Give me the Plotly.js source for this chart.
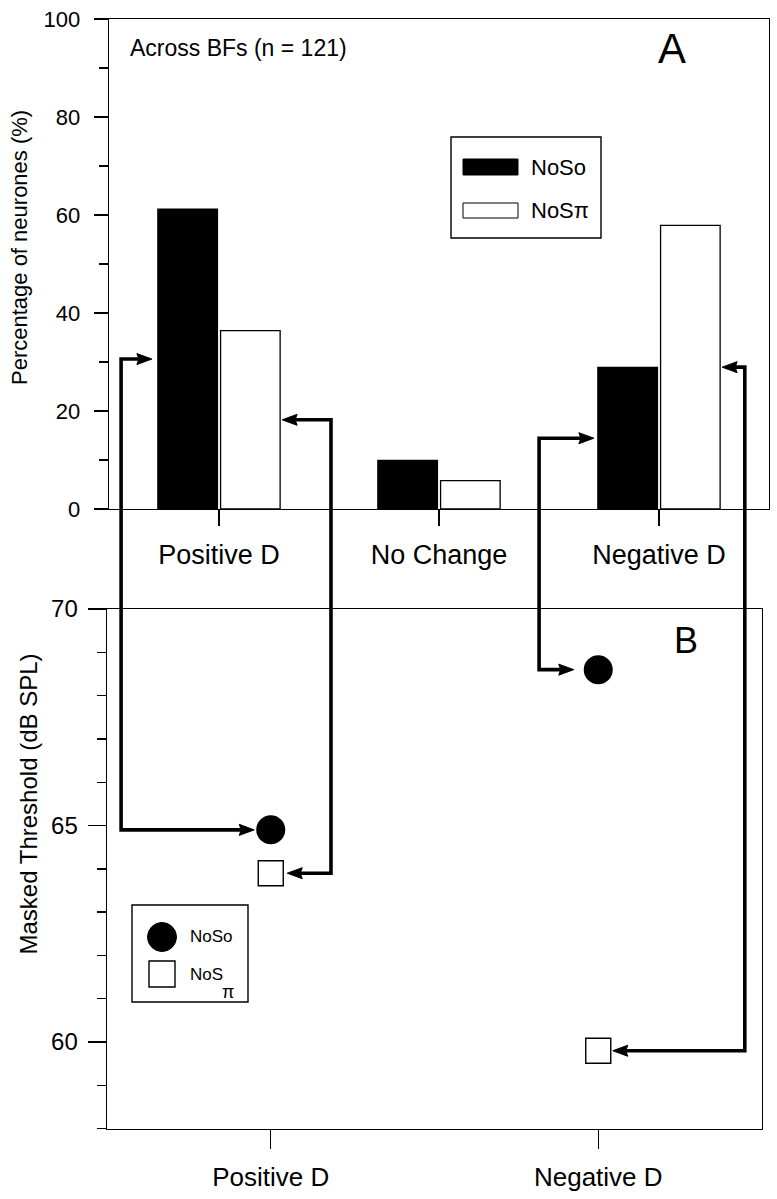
<!DOCTYPE html>
<html><head><meta charset="utf-8">
<script src="https://cdn.plot.ly/plotly-3.0.1.min.js"></script>
<style>html,body{margin:0;padding:0;background:#fff}</style>
</head><body><div id="chart" style="width:777px;height:1199px"></div>
<script>
// ---------------- DATA ----------------
const categoriesA = ['Positive D', 'No Change', 'Negative D'];
const percentNoSo = [61.2, 9.9, 28.9];
const percentNoSpi = [36.4, 5.8, 57.9];
const categoriesB = ['Positive D', 'Negative D'];
const thresholdNoSo = [64.9, 68.6];
const thresholdNoSpi = [63.9, 59.8];
const seriesNames = ['NoSo', 'NoSπ'];
const panelANote = 'Across BFs (n = 121)';
const yTitleA = 'Percentage of neurones (%)';
const yTitleB = 'Masked Threshold (dB SPL)';

// ---------------- GEOMETRY / STYLE ----------------
const W = 777, H = 1199;
const FONT = '"Liberation Sans", Arial, Helvetica, sans-serif';
const boxA = {l: 109, r: 769, t: 19, b: 509};
const boxB = {l: 107, r: 762, t: 609, b: 1128.7};
const rangeAx = [-0.5, 2.5], rangeAy = [0, 100];
const rangeBx = [-0.5, 1.5], rangeBy = [58, 70];
const BARGAP = 0.43, BARGROUPGAP = 0.05;
const CIRCLE = 29, SQUARE = 25;
const LW = 1.4;

const dom = (a, b, n) => [a / n, b / n];
const dx = (px) => px / W;
const dy = (px) => 1 - px / H;

// data -> pixel (using same ranges/domains given to the axes)
const Ax = v => boxA.l + (v - rangeAx[0]) / (rangeAx[1] - rangeAx[0]) * (boxA.r - boxA.l);
const Ay = v => boxA.b - (v - rangeAy[0]) / (rangeAy[1] - rangeAy[0]) * (boxA.b - boxA.t);
const Bx = v => boxB.l + (v - rangeBx[0]) / (rangeBx[1] - rangeBx[0]) * (boxB.r - boxB.l);
const By = v => boxB.b - (v - rangeBy[0]) / (rangeBy[1] - rangeBy[0]) * (boxB.b - boxB.t);

// bar geometry in category units
const slot = (1 - BARGAP) / 2;
const barHalf = slot * (1 - BARGROUPGAP) / 2;
const barCenter = s => (s === 0 ? -slot / 2 : slot / 2);

const barVals = [percentNoSo, percentNoSpi];
const markVals = [thresholdNoSo, thresholdNoSpi];
const markHalf = [CIRCLE / 2, SQUARE / 2];

// connector routing (category offsets & pixel gaps)
const arrows = [
  {s: 0, cA: 0, cB: 0, dir: 1, route: -0.445, gapA: 6, gapB: 2},
  {s: 1, cA: 0, cB: 0, dir: -1, route: 0.509, gapA: 2, gapB: 4},
  {s: 0, cA: 2, cB: 1, dir: 1, route: -0.545, gapA: 4, gapB: 10},
  {s: 1, cA: 2, cB: 1, dir: -1, route: 0.39, gapA: 2, gapB: 2}
];
const HEADL = 15, HEADW = 5.5, ARW = 3.6;

const P = (x, y) => dx(x).toFixed(5) + ',' + dy(y).toFixed(5);
const shapes = [];
arrows.forEach(a => {
  const vBar = barVals[a.s][a.cA];
  const yA = Ay(vBar / 2);
  const barEdge = Ax(a.cA + barCenter(a.s) - a.dir * barHalf);
  const tipA = barEdge - a.dir * a.gapA;
  const routeX = Ax(a.cA + a.route);
  const yB = By(markVals[a.s][a.cB]);
  const tipB = Bx(a.cB) - a.dir * (markHalf[a.s] + a.gapB);
  const baseA = tipA - a.dir * (HEADL - 2), baseB = tipB - a.dir * (HEADL - 2);
  shapes.push({type: 'path', xref: 'paper', yref: 'paper', layer: 'above',
    path: 'M' + P(baseA, yA) + ' L' + P(routeX, yA) + ' L' + P(routeX, yB) + ' L' + P(baseB, yB),
    line: {color: 'black', width: ARW}});
  [[tipA, yA], [tipB, yB]].forEach(([tx, ty]) => {
    shapes.push({type: 'path', xref: 'paper', yref: 'paper', layer: 'above',
      path: 'M' + P(tx, ty) + ' L' + P(tx - a.dir * HEADL, ty - HEADW) + ' L' + P(tx - a.dir * (HEADL - 2), ty) +
            ' L' + P(tx - a.dir * HEADL, ty + HEADW) + ' Z',
      fillcolor: 'black', line: {color: 'black', width: 1}});
  });
});

// Legend A
shapes.push({type: 'rect', xref: 'paper', yref: 'paper', x0: dx(451), x1: dx(601), y0: dy(238), y1: dy(137), line: {color: 'black', width: LW}, fillcolor: 'white', layer: 'below'});
shapes.push({type: 'rect', xref: 'paper', yref: 'paper', x0: dx(463), x1: dx(518), y0: dy(175), y1: dy(159), line: {color: 'black', width: 1}, fillcolor: 'black'});
shapes.push({type: 'rect', xref: 'paper', yref: 'paper', x0: dx(463), x1: dx(518), y0: dy(218), y1: dy(203), line: {color: 'black', width: 1}, fillcolor: 'white'});
// Legend B
shapes.push({type: 'rect', xref: 'paper', yref: 'paper', x0: dx(132), x1: dx(248), y0: dy(1002), y1: dy(905), line: {color: 'black', width: LW}, fillcolor: 'rgba(0,0,0,0)'});
shapes.push({type: 'circle', xref: 'paper', yref: 'paper', x0: dx(162 - 14.5), x1: dx(162 + 14.5), y0: dy(937 + 14.5), y1: dy(937 - 14.5), line: {color: 'black', width: 1}, fillcolor: 'black'});
shapes.push({type: 'rect', xref: 'paper', yref: 'paper', x0: dx(162 - 13), x1: dx(162 + 13), y0: dy(974 + 13), y1: dy(974 - 13), line: {color: 'black', width: LW}, fillcolor: 'white'});

const ann = (text, x, y, size, extra) => Object.assign({text, xref: 'paper', yref: 'paper', x: dx(x), y: dy(y),
  showarrow: false, xanchor: 'left', yanchor: 'middle', font: {family: FONT, size, color: 'black'}}, extra || {});

const annotations = [
  ann(panelANote, 128, 48, 23),
  ann('A', 672, 48, 42, {xanchor: 'center'}),
  ann('B', 686, 640, 36, {xanchor: 'center'}),
  ann(yTitleA, 20, 248, 22, {xanchor: 'center', textangle: -90}),
  ann(yTitleB, 28, 804.5, 24, {xanchor: 'center', textangle: -90}),
  ann(seriesNames[0], 529, 168, 22),
  ann(seriesNames[1], 529, 210, 22),
  ann(seriesNames[0], 188, 936, 17),
  ann('NoS', 188, 974, 17),
  ann('π', 228, 992, 18, {xanchor: 'center'})
];

const traces = [
  {type: 'bar', name: seriesNames[0], x: categoriesA, y: percentNoSo, xaxis: 'x', yaxis: 'y',
   marker: {color: 'black', line: {color: 'black', width: 1.3}}},
  {type: 'bar', name: seriesNames[1], x: categoriesA, y: percentNoSpi, xaxis: 'x', yaxis: 'y',
   marker: {color: 'white', line: {color: 'black', width: 1.3}}},
  {type: 'scatter', mode: 'markers', name: seriesNames[0], x: categoriesB, y: thresholdNoSo, xaxis: 'x2', yaxis: 'y2',
   cliponaxis: false, marker: {symbol: 'circle', size: CIRCLE, color: 'black', line: {color: 'black', width: 0}}},
  {type: 'scatter', mode: 'markers', name: seriesNames[1], x: categoriesB, y: thresholdNoSpi, xaxis: 'x2', yaxis: 'y2',
   cliponaxis: false, marker: {symbol: 'square', size: SQUARE, color: 'white', line: {color: 'black', width: LW}}}
];

const axisBase = {showline: true, linecolor: 'black', linewidth: LW, mirror: true, showgrid: false, zeroline: false,
  ticks: 'outside', tickcolor: 'black', tickwidth: LW, fixedrange: true, automargin: false};

const layout = {
  width: W, height: H, margin: {l: 0, r: 0, t: 0, b: 0}, paper_bgcolor: 'white', plot_bgcolor: 'rgba(0,0,0,0)',
  showlegend: false, barmode: 'group', bargap: BARGAP, bargroupgap: BARGROUPGAP,
  font: {family: FONT, color: 'black'},
  xaxis: Object.assign({}, axisBase, {domain: dom(boxA.l, boxA.r, W), anchor: 'y', type: 'category', range: rangeAx,
    ticklen: 16, tickfont: {size: 27, family: FONT}, ticklabelstandoff: 5}),
  yaxis: Object.assign({}, axisBase, {domain: [1 - boxA.b / H, 1 - boxA.t / H], anchor: 'x', range: rangeAy,
    tick0: 0, dtick: 20, ticklen: 14, tickfont: {size: 22, family: FONT}, ticklabelstandoff: 9,
    minor: {dtick: 10, ticklen: 9, tickwidth: LW, tickcolor: 'black', ticks: 'outside', showgrid: false}}),
  xaxis2: Object.assign({}, axisBase, {domain: dom(boxB.l, boxB.r, W), anchor: 'y2', type: 'category', range: rangeBx,
    ticklen: 19, tickfont: {size: 26, family: FONT}, ticklabelstandoff: 6}),
  yaxis2: Object.assign({}, axisBase, {domain: [1 - boxB.b / H, 1 - boxB.t / H], anchor: 'x2', range: rangeBy,
    tick0: 60, dtick: 5, ticklen: 18, tickfont: {size: 24, family: FONT}, ticklabelstandoff: 5,
    minor: {dtick: 1, ticklen: 9, tickwidth: LW, tickcolor: 'black', ticks: 'outside', showgrid: false}}),
  shapes, annotations
};

Plotly.newPlot('chart', traces, layout, {staticPlot: true, displayModeBar: false});
</script></body></html>
